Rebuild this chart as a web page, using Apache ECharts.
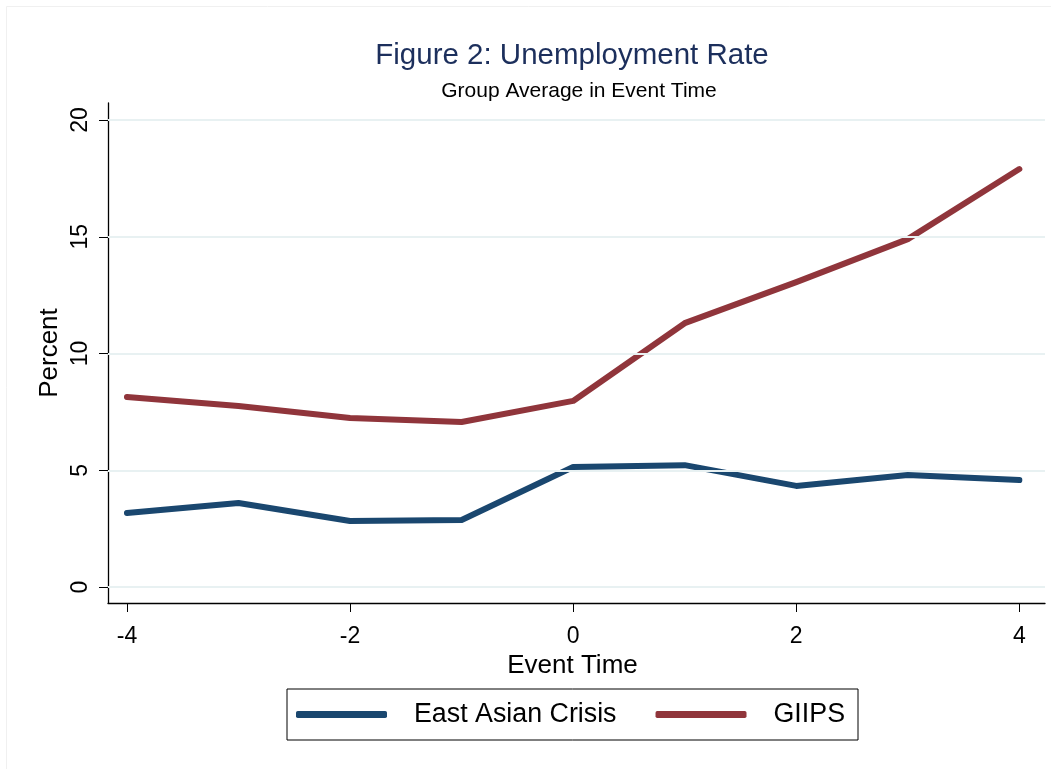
<!DOCTYPE html>
<html><head><meta charset="utf-8">
<script src="https://cdn.jsdelivr.net/npm/echarts@6/dist/echarts.min.js"></script>
<style>html,body{margin:0;padding:0;background:#fff;}#c{width:1051px;height:769px;}</style>
</head><body><div id="c"></div>
<script>
const eventTime = [-4, -3, -2, -1, 0, 1, 2, 3, 4];
const eastAsian = [3.17, 3.6, 2.83, 2.87, 5.14, 5.22, 4.33, 4.8, 4.58];
const giips = [8.14, 7.75, 7.24, 7.07, 7.97, 11.3, 13.06, 14.9, 17.9];
const xTicks = [-4, -2, 0, 2, 4];
const yTicks = [0, 5, 10, 15, 20];

const chart = echarts.init(document.getElementById('c'));
const font = 'Liberation Sans, Arial, sans-serif';
chart.setOption({
  backgroundColor: '#fff',
  animation: false,
  graphic: [
    {type: 'line', shape: {x1: 6.5, y1: 6.5, x2: 1051, y2: 6.5}, style: {stroke: '#f0f0f0', lineWidth: 1}, silent: true},
    {type: 'line', shape: {x1: 6.5, y1: 6.5, x2: 6.5, y2: 769}, style: {stroke: '#f0f0f0', lineWidth: 1}, silent: true}
  ],
  title: [
    {text: 'Figure 2: Unemployment Rate', left: 567, top: 36, textAlign: 'center',
     textStyle: {fontFamily: font, fontSize: 29.5, fontWeight: 'normal', color: '#1c2f5c'}},
    {text: 'Group Average in Event Time', left: 574, top: 76, textAlign: 'center',
     textStyle: {fontFamily: font, fontSize: 21, fontWeight: 'normal', color: '#000'}}
  ],
  legend: {
    left: 287, top: 689, orient: 'horizontal',
    itemWidth: 91, itemHeight: 7, itemGap: 39, icon: 'roundRect',
    borderColor: '#000', borderWidth: 1, padding: [12, 13, 12, 9],
    textStyle: {fontFamily: font, fontSize: 26.8, color: '#000', padding: [0, 0, 0, 22]},
    data: ['East Asian Crisis', 'GIIPS']
  },
  grid: {left: 108, right: 6, top: 103, bottom: 166, containLabel: false},
  xAxis: {
    type: 'value', min: -4.17, max: 4.23,
    name: 'Event Time', nameLocation: 'middle', nameGap: 46,
    nameTextStyle: {fontFamily: font, fontSize: 26, color: '#000', padding: [0, 8, 0, 0]},
    axisLine: {show: true, onZero: false, lineStyle: {color: '#000', width: 1.3}},
    axisTick: {show: true, length: 9, lineStyle: {color: '#000'}, customValues: xTicks},
    axisLabel: {fontFamily: font, fontSize: 23, color: '#000', margin: 22, customValues: xTicks},
    splitLine: {show: false}
  },
  yAxis: {
    type: 'value', min: -0.685, max: 20.73,
    name: 'Percent', nameLocation: 'middle', nameGap: 45, nameRotate: 90, nameMoveOverlap: false,
    nameTextStyle: {fontFamily: font, fontSize: 26, color: '#000'},
    axisLine: {show: true, onZero: false, lineStyle: {color: '#000', width: 1.3}},
    axisTick: {show: true, length: 9, lineStyle: {color: '#000'}, customValues: yTicks},
    axisLabel: {fontFamily: font, fontSize: 23, color: '#000', rotate: 90, margin: 16, customValues: yTicks},
    splitLine: {show: false}
  },
  series: [
    {name: 'East Asian Crisis', type: 'line', data: eventTime.map((x, i) => [x, eastAsian[i]]),
     showSymbol: false, symbol: 'none', lineStyle: {color: '#1a476f', width: 6, cap: 'round', join: 'round'},
     itemStyle: {color: '#1a476f'},
     markLine: {silent: true, symbol: 'none', label: {show: false},
       lineStyle: {color: '#e8f1f2', width: 2, type: 'solid'},
       data: yTicks.map(v => ({yAxis: v}))}},
    {name: 'GIIPS', type: 'line', data: eventTime.map((x, i) => [x, giips[i]]),
     showSymbol: false, symbol: 'none', lineStyle: {color: '#90353b', width: 6, cap: 'round', join: 'round'},
     itemStyle: {color: '#90353b'}}
  ]
});
</script></body></html>
